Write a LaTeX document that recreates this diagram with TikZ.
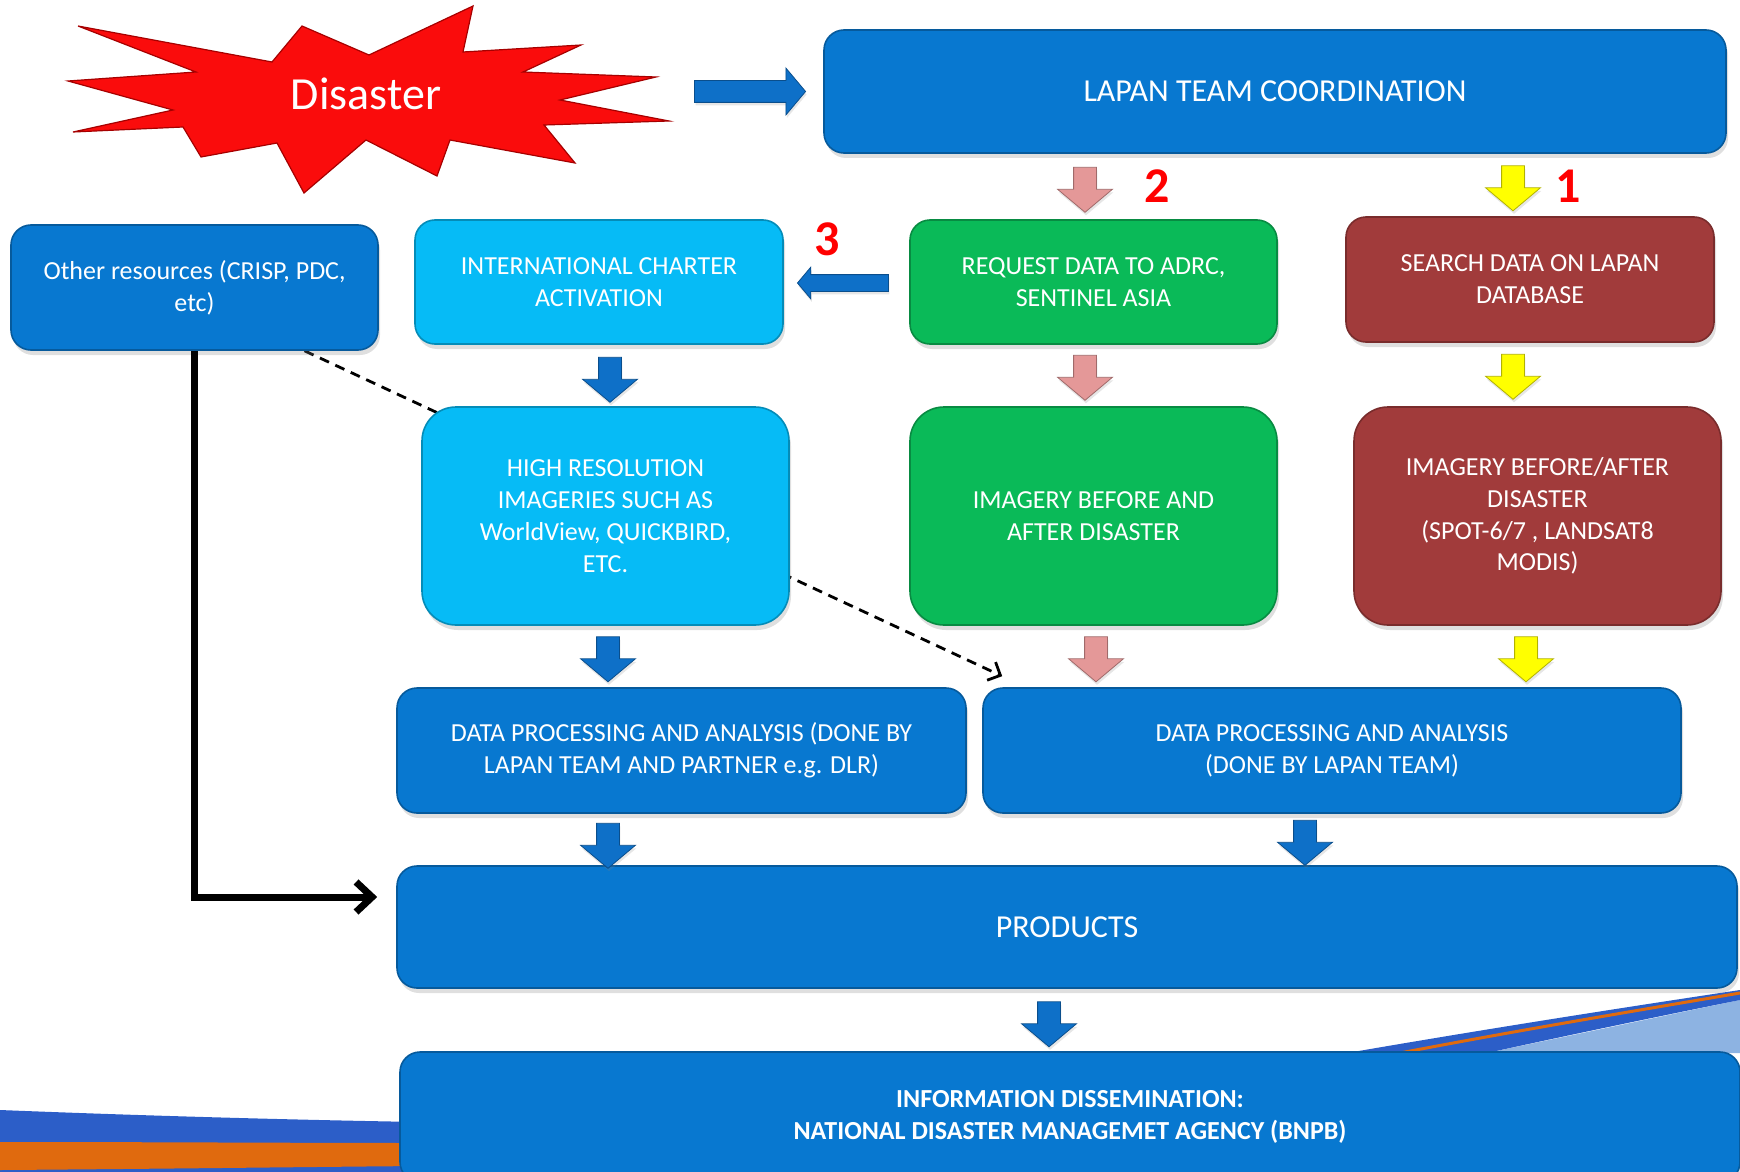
\documentclass[tikz,border=0pt]{standalone}
\usepackage{fontspec}
\setmainfont{Carlito}
\usetikzlibrary{shapes.arrows,shadows,backgrounds,calc,arrows.meta}

\definecolor{boxblue}{RGB}{8,120,208}
\definecolor{boxcyan}{RGB}{6,187,246}
\definecolor{boxgreen}{RGB}{10,186,88}
\definecolor{boxred}{RGB}{161,59,59}
\definecolor{arrpink}{RGB}{228,152,152}
\definecolor{arryellow}{RGB}{255,255,0}
\definecolor{arrblue}{RGB}{14,112,200}
\definecolor{starred}{RGB}{250,12,12}
\definecolor{swblue}{RGB}{44,94,200}
\definecolor{sworange}{RGB}{224,106,14}
\definecolor{swlight}{RGB}{141,179,226}

\tikzset{every picture/.style={line width=0.75pt}}
\tikzset{
  box/.style={rectangle, rounded corners=10pt, fill=#1, draw=#1!75!black, line width=0.8pt,
    text=white, align=center, inner sep=2pt, font=\fontsize{13}{15.9}\selectfont,
    drop shadow={shadow xshift=1pt, shadow yshift=-2.5pt, opacity=0.25}},
  downarr/.style={single arrow, shape border rotate=270, fill=#1, draw=#1!70!black, line width=0.4pt,
    minimum height=22.5pt, inner sep=5.5pt, single arrow head extend=8pt,
    single arrow tip angle=100,
    drop shadow={shadow xshift=0.5pt, shadow yshift=-1.5pt, opacity=0.2}},
  stepnum/.style={text=red, font=\fontsize{25}{30}\selectfont\bfseries, inner sep=0pt},
}

\begin{document}
\begin{tikzpicture}[x=0.5pt,y=0.5pt,yscale=-1,xscale=1]
\useasboundingbox (0,0) rectangle (1740,1172);
\clip (0,0) rectangle (1740,1172);

%Shape: swoosh bottom left
\fill [swblue] (0,1110) .. controls (150,1116) and (300,1120) .. (420,1122) -- (420,1172) -- (0,1172) -- cycle;
\fill [sworange] (0,1142) .. controls (150,1142) and (300,1143) .. (420,1143) -- (420,1166) .. controls (300,1167) and (150,1169) .. (0,1170) -- cycle;
%Shape: swoosh bottom right
\fill [swlight] (1487,1053) -- (1740,1000) -- (1740,1053) -- cycle;
\fill [swblue] (1347,1053) .. controls (1480,1030) and (1620,1008) .. (1740,990) -- (1740,1000) .. controls (1650,1018) and (1560,1037) .. (1487,1053) -- cycle;
\draw [sworange, line width=1.5pt] (1400,1053) .. controls (1520,1030) and (1640,1010) .. (1740,993);

%Shape: Star
\draw [fill=starred, draw=red!65!black, line width=0.6pt, line join=miter]
  (68,81) -- (196,72) -- (78,26) -- (272,62) -- (302,26) -- (369,55) -- (473,6) -- (463,52)
  -- (581,45) -- (523,72) -- (656,77) -- (560,100) -- (669,121) -- (544,125) -- (575,163)
  -- (450,140) -- (437,176) -- (366,140) -- (304,193) -- (277,143) -- (201,157) -- (183,127)
  -- (73,132) -- (173,110) -- cycle;
% Text Node
\node [text=white, font=\fontsize{23}{28}\selectfont, inner sep=0pt] (disaster) at (366,94) {Disaster};

% Boxes
\node [box=boxblue, minimum width=451pt, minimum height=61.5pt, font=\fontsize{16}{19.5}\selectfont] (coord) at (1275,91.5) {LAPAN TEAM COORDINATION};
\node [box=boxblue, minimum width=183.5pt, minimum height=62.5pt] (other) at (194.5,287.5) {Other resources (CRISP, PDC,\\etc)};
\node [box=boxcyan, minimum width=184pt, minimum height=62pt] (charter) at (599,282) {INTERNATIONAL CHARTER\\ACTIVATION};
\node [box=boxgreen, minimum width=183.5pt, minimum height=62pt] (request) at (1093.5,282) {REQUEST DATA TO ADRC,\\SENTINEL ASIA};
\node [box=boxred, minimum width=184pt, minimum height=62.5pt] (search) at (1530,279.5) {SEARCH DATA ON LAPAN\\DATABASE};
\node [box=boxcyan, minimum width=183.5pt, minimum height=109pt, rounded corners=17pt] (hires) at (605.5,516) {HIGH RESOLUTION\\IMAGERIES SUCH AS\\WorldView, QUICKBIRD,\\ETC.};
\node [box=boxgreen, minimum width=183.5pt, minimum height=109pt, rounded corners=17pt] (imggreen) at (1093.5,516) {IMAGERY BEFORE AND\\AFTER DISASTER};
\node [box=boxred, minimum width=183.5pt, minimum height=109pt, rounded corners=17pt] (imgred) at (1537.5,516) {IMAGERY BEFORE/AFTER\\DISASTER\\(SPOT-6/7 , LANDSAT8\\MODIS)};
\node [box=boxblue, minimum width=284.5pt, minimum height=62.5pt] (procleft) at (681.5,750.5) {DATA PROCESSING AND ANALYSIS (DONE BY\\LAPAN TEAM AND PARTNER e.g. DLR)};
\node [box=boxblue, minimum width=349pt, minimum height=62.5pt] (procright) at (1332,750.5) {DATA PROCESSING AND ANALYSIS\\(DONE BY LAPAN TEAM)};
\node [box=boxblue, minimum width=670pt, minimum height=61pt, font=\fontsize{16}{19.5}\selectfont] (products) at (1067,927) {PRODUCTS};
\node [box=boxblue, minimum width=670pt, minimum height=65pt, font=\fontsize{13}{15.9}\selectfont\bfseries] (info) at (1070,1117) {INFORMATION DISSEMINATION:\\NATIONAL DISASTER MANAGEMET AGENCY (BNPB)};

% Block arrows
\node [single arrow, fill=arrblue, draw=arrblue!70!black, line width=0.4pt, minimum height=55.5pt, inner sep=5.25pt,
  single arrow head extend=6.25pt, single arrow tip angle=100,
  drop shadow={shadow xshift=0.5pt, shadow yshift=-1.5pt, opacity=0.2}] (toteam) at (745.5,91.5) {};
\node [single arrow, shape border rotate=180, fill=arrblue, draw=arrblue!70!black, line width=0.4pt, minimum height=45.5pt,
  inner sep=4pt, single arrow head extend=3.75pt, single arrow tip angle=100,
  drop shadow={shadow xshift=0.5pt, shadow yshift=-1.5pt, opacity=0.2}] (tocharter) at (846.5,283) {};
\node [downarr=arrpink] (pinkA) at (1085,185) {};
\node [downarr=arryellow] (yellowA) at (1513,183.5) {};
\node [downarr=arrblue] (blueA) at (610,375) {};
\node [downarr=arrpink] (pinkB) at (1085,373) {};
\node [downarr=arryellow] (yellowB) at (1513,372) {};
\node [downarr=arrblue] (blueB) at (608,654.5) {};
\node [downarr=arrpink] (pinkC) at (1096,654.5) {};
\node [downarr=arryellow] (yellowC) at (1526,654.5) {};
\node [downarr=arrblue] (blueC) at (608,841) {};
\node [downarr=arrblue] (blueD) at (1305,838) {};
\node [downarr=arrblue] (blueE) at (1049,1019.5) {};

% Text Node
\node [stepnum] (num2) at (1157,186) {2};
\node [stepnum] (num1) at (1568,186) {1};
\node [stepnum] (num3) at (827,239) {3};

%Connectors
\draw [line width=3.5pt, -{Straight Barb[length=8pt,width=15pt]}] (other.south) |- ($(products.west)+(-19,-30)$);
\begin{scope}[on background layer]
\draw [line width=1.4pt, dash pattern=on 5pt off 3.5pt, -{Straight Barb[length=5pt,width=10pt]}] ($(other.south)+(110,0)$) -- ($(procright.north west)+(20,-11)$);
\end{scope}

\end{tikzpicture}
\end{document}
